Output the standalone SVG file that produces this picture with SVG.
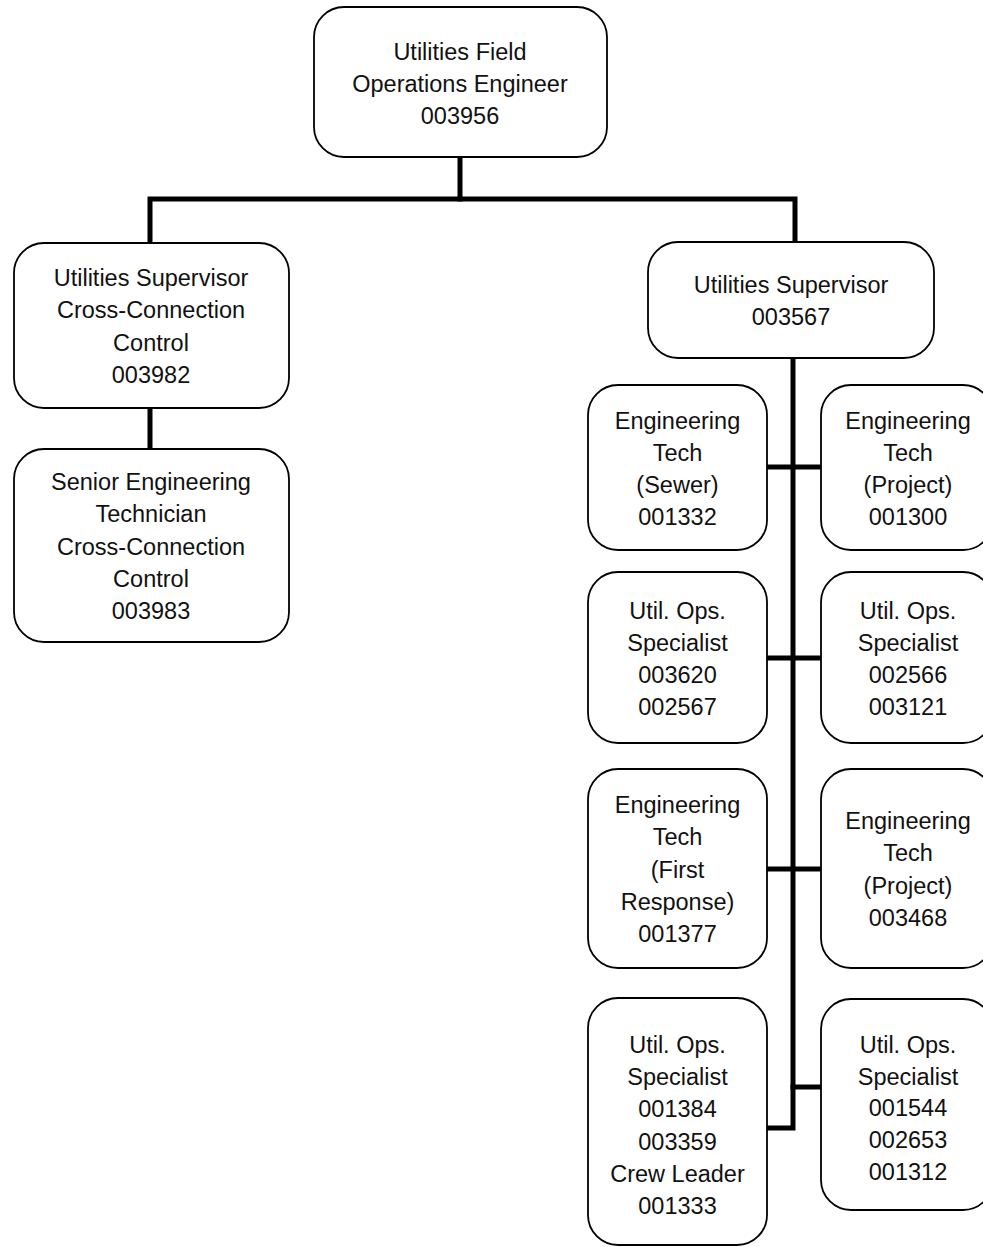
<svg xmlns="http://www.w3.org/2000/svg" width="983" height="1247" viewBox="0 0 983 1247">
<style>
.box{fill:#fff;stroke:#000;stroke-width:1.8}
.t{font-family:"Liberation Sans",Arial,sans-serif;font-size:23.5px;fill:#111;text-anchor:middle}
.c{fill:none;stroke:#000;stroke-width:5;stroke-linecap:square;stroke-linejoin:miter}
</style>
<rect width="983" height="1247" fill="#fff"/>
<g id="connectors">
<path class="c" d="M150,241 V199 H795 V240"/>
<path class="c" d="M460,159 V199"/>
<path class="c" d="M150,410 V447"/>
<path class="c" d="M793,360 V1128 H769"/>
<path class="c" d="M769,467 H819"/>
<path class="c" d="M769,658 H819"/>
<path class="c" d="M769,869 H819"/>
<path class="c" d="M793,1087 H819"/>
</g>
<g id="n_top">
<rect class="box" x="314" y="7" width="293" height="150" rx="30"/>
<text class="t" x="460" y="60">Utilities Field</text>
<text class="t" x="460" y="92">Operations Engineer</text>
<text class="t" x="460" y="124">003956</text>
</g>
<g id="n_sup_ccc">
<rect class="box" x="14" y="243" width="275" height="165" rx="30"/>
<text class="t" x="151" y="286">Utilities Supervisor</text>
<text class="t" x="151" y="318">Cross-Connection</text>
<text class="t" x="151" y="351">Control</text>
<text class="t" x="151" y="383">003982</text>
</g>
<g id="n_senior">
<rect class="box" x="14" y="449" width="275" height="193" rx="30"/>
<text class="t" x="151" y="490">Senior Engineering</text>
<text class="t" x="151" y="522">Technician</text>
<text class="t" x="151" y="555">Cross-Connection</text>
<text class="t" x="151" y="587">Control</text>
<text class="t" x="151" y="619">003983</text>
</g>
<g id="n_sup">
<rect class="box" x="648" y="242" width="286" height="116" rx="30"/>
<text class="t" x="791" y="293">Utilities Supervisor</text>
<text class="t" x="791" y="325">003567</text>
</g>
<g id="n_r1l">
<rect class="box" x="588" y="385" width="179" height="165" rx="30"/>
<text class="t" x="677.5" y="429">Engineering</text>
<text class="t" x="677.5" y="461">Tech</text>
<text class="t" x="677.5" y="493">(Sewer)</text>
<text class="t" x="677.5" y="525">001332</text>
</g>
<g id="n_r1r">
<rect class="box" x="821" y="385" width="172" height="165" rx="30"/>
<text class="t" x="908" y="429">Engineering</text>
<text class="t" x="908" y="461">Tech</text>
<text class="t" x="908" y="493">(Project)</text>
<text class="t" x="908" y="525">001300</text>
</g>
<g id="n_r2l">
<rect class="box" x="588" y="572" width="179" height="171" rx="30"/>
<text class="t" x="677.5" y="619">Util. Ops.</text>
<text class="t" x="677.5" y="651">Specialist</text>
<text class="t" x="677.5" y="683">003620</text>
<text class="t" x="677.5" y="715">002567</text>
</g>
<g id="n_r2r">
<rect class="box" x="821" y="572" width="172" height="171" rx="30"/>
<text class="t" x="908" y="619">Util. Ops.</text>
<text class="t" x="908" y="651">Specialist</text>
<text class="t" x="908" y="683">002566</text>
<text class="t" x="908" y="715">003121</text>
</g>
<g id="n_r3l">
<rect class="box" x="588" y="769" width="179" height="199" rx="30"/>
<text class="t" x="677.5" y="813">Engineering</text>
<text class="t" x="677.5" y="845">Tech</text>
<text class="t" x="677.5" y="878">(First</text>
<text class="t" x="677.5" y="910">Response)</text>
<text class="t" x="677.5" y="942">001377</text>
</g>
<g id="n_r3r">
<rect class="box" x="821" y="769" width="172" height="199" rx="30"/>
<text class="t" x="908" y="829">Engineering</text>
<text class="t" x="908" y="861">Tech</text>
<text class="t" x="908" y="894">(Project)</text>
<text class="t" x="908" y="926">003468</text>
</g>
<g id="n_r4l">
<rect class="box" x="588" y="998" width="179" height="247" rx="30"/>
<text class="t" x="677.5" y="1053">Util. Ops.</text>
<text class="t" x="677.5" y="1085">Specialist</text>
<text class="t" x="677.5" y="1117">001384</text>
<text class="t" x="677.5" y="1150">003359</text>
<text class="t" x="677.5" y="1182">Crew Leader</text>
<text class="t" x="677.5" y="1214">001333</text>
</g>
<g id="n_r4r">
<rect class="box" x="821" y="999" width="172" height="211" rx="30"/>
<text class="t" x="908" y="1053">Util. Ops.</text>
<text class="t" x="908" y="1085">Specialist</text>
<text class="t" x="908" y="1116">001544</text>
<text class="t" x="908" y="1148">002653</text>
<text class="t" x="908" y="1180">001312</text>
</g>
</svg>
